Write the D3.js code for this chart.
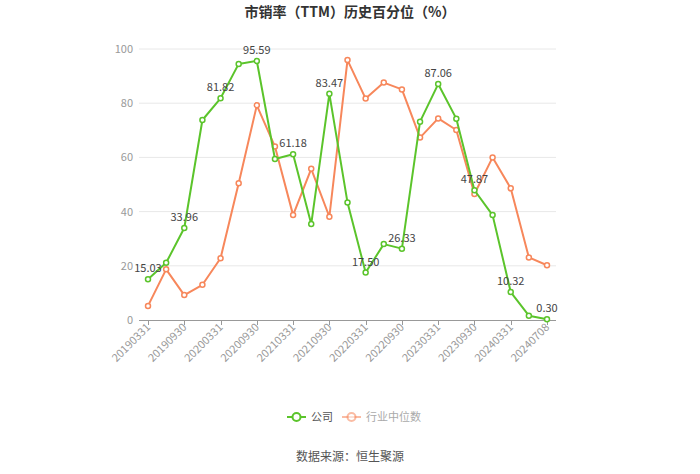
<!DOCTYPE html>
<html><head><meta charset="utf-8">
<script src="https://cdn.jsdelivr.net/npm/d3@7/dist/d3.min.js"></script>
<style>body{margin:0;background:#fff;}svg{display:block;font-family:"Microsoft YaHei","Noto Sans CJK SC",sans-serif;}</style>
</head><body><svg id="c" width="700" height="474"></svg>
<script>
const dates = ["20190331","20190630","20190930","20191231","20200331","20200630","20200930","20201231","20210331","20210630","20210930","20211231","20220331","20220630","20220930","20221231","20230331","20230630","20230930","20231231","20240331","20240630","20240708"];
const companyValues = [15.03,21.1,33.96,73.8,81.82,94.5,95.59,59.4,61.18,35.4,83.47,43.4,17.50,28.0,26.33,73.2,87.06,74.3,47.87,38.7,10.32,1.6,0.30];
const industryValues = [5.2,18.7,9.2,13.0,22.8,50.5,79.2,64.0,38.7,55.8,38.1,95.9,81.7,87.6,85.1,67.3,74.4,70.1,46.5,60.0,48.6,23.1,20.2];
const labeledIdx = [0,2,4,6,8,10,12,14,16,18,20,22];
const yTicks = [0,20,40,60,80,100];
const tickDates = dates.filter((d,i)=>i%2===0 || i===dates.length-1).filter(d=>d!=="20240630");
const seriesNames = ["公司","行业中位数"];
const colors = ["#5bc42b","#f7875b"];

const svg = d3.select("#c");
const gridL = 139, gridR = 556;
const x = d3.scalePoint().domain(dates).range([148,547]);
const y = d3.scaleLinear().domain([0,100]).range([320,49]);

// title
svg.append("text").attr("x",350).attr("y",17).attr("text-anchor","middle")
  .attr("font-size",14).attr("font-weight","bold").attr("fill","#333").text("市销率（TTM）历史百分位（%）");

// grid
svg.append("g").selectAll("line").data(yTicks.filter(t=>t>0)).join("line")
  .attr("x1",gridL).attr("x2",gridR).attr("y1",d=>y(d)).attr("y2",d=>y(d))
  .attr("stroke","#e8e8e8").attr("stroke-width",1);
svg.append("g").selectAll("text").data(yTicks).join("text")
  .attr("x",133).attr("y",d=>y(d)+4).attr("text-anchor","end")
  .attr("font-size",11).attr("fill","#999").text(d=>d);

// x axis
svg.append("line").attr("x1",gridL).attr("x2",gridR).attr("y1",320.5).attr("y2",320.5).attr("stroke","#999");
const xt = svg.append("g");
xt.selectAll("line").data(tickDates).join("line")
  .attr("x1",d=>Math.round(x(d))+0.5).attr("x2",d=>Math.round(x(d))+0.5).attr("y1",320).attr("y2",325).attr("stroke","#999");
xt.selectAll("text").data(tickDates).join("text")
  .attr("transform",d=>`translate(${x(d)+3},${328}) rotate(-45)`)
  .attr("text-anchor","end").attr("font-size",11).attr("fill","#999").text(d=>d);

// lines
const line = d3.line().x((d,i)=>x(dates[i])).y(d=>y(d));
[industryValues, companyValues].forEach((vals,k)=>{
  const c = k===0?colors[1]:colors[0];
  svg.append("path").datum(vals).attr("d",line).attr("fill","none").attr("stroke",c).attr("stroke-width",2).attr("stroke-linejoin","round");
  svg.append("g").selectAll("circle").data(vals).join("circle")
    .attr("cx",(d,i)=>x(dates[i])).attr("cy",d=>y(d)).attr("r",2.5)
    .attr("fill","#fff").attr("stroke",c).attr("stroke-width",1.5);
});
// labels
svg.append("g").selectAll("text").data(labeledIdx).join("text")
  .attr("x",i=>x(dates[i])).attr("y",i=>y(companyValues[i])-7).attr("text-anchor","middle")
  .attr("font-size",11).attr("fill","#444").text(i=>companyValues[i].toFixed(2));

// legend
const lg = svg.append("g");
const items = [{n:seriesNames[0],c:colors[0],x:287},{n:seriesNames[1],c:colors[1],x:342}];
items.forEach((it,k)=>{
  const op = k===1?0.55:1;
  lg.append("line").attr("x1",it.x).attr("x2",it.x+19).attr("y1",417).attr("y2",417).attr("stroke",it.c).attr("stroke-width",2).attr("opacity",op);
  lg.append("circle").attr("cx",it.x+9.5).attr("cy",417).attr("r",4).attr("fill","#fff").attr("stroke",it.c).attr("stroke-width",2).attr("opacity",op);
  lg.append("text").attr("x",it.x+24).attr("y",421).attr("font-size",11).attr("fill",k===1?"#aaa":"#555").text(it.n);
});
svg.append("text").attr("x",350).attr("y",461).attr("text-anchor","middle").attr("font-size",12).attr("fill","#555").text("数据来源：恒生聚源");
</script></body></html>
